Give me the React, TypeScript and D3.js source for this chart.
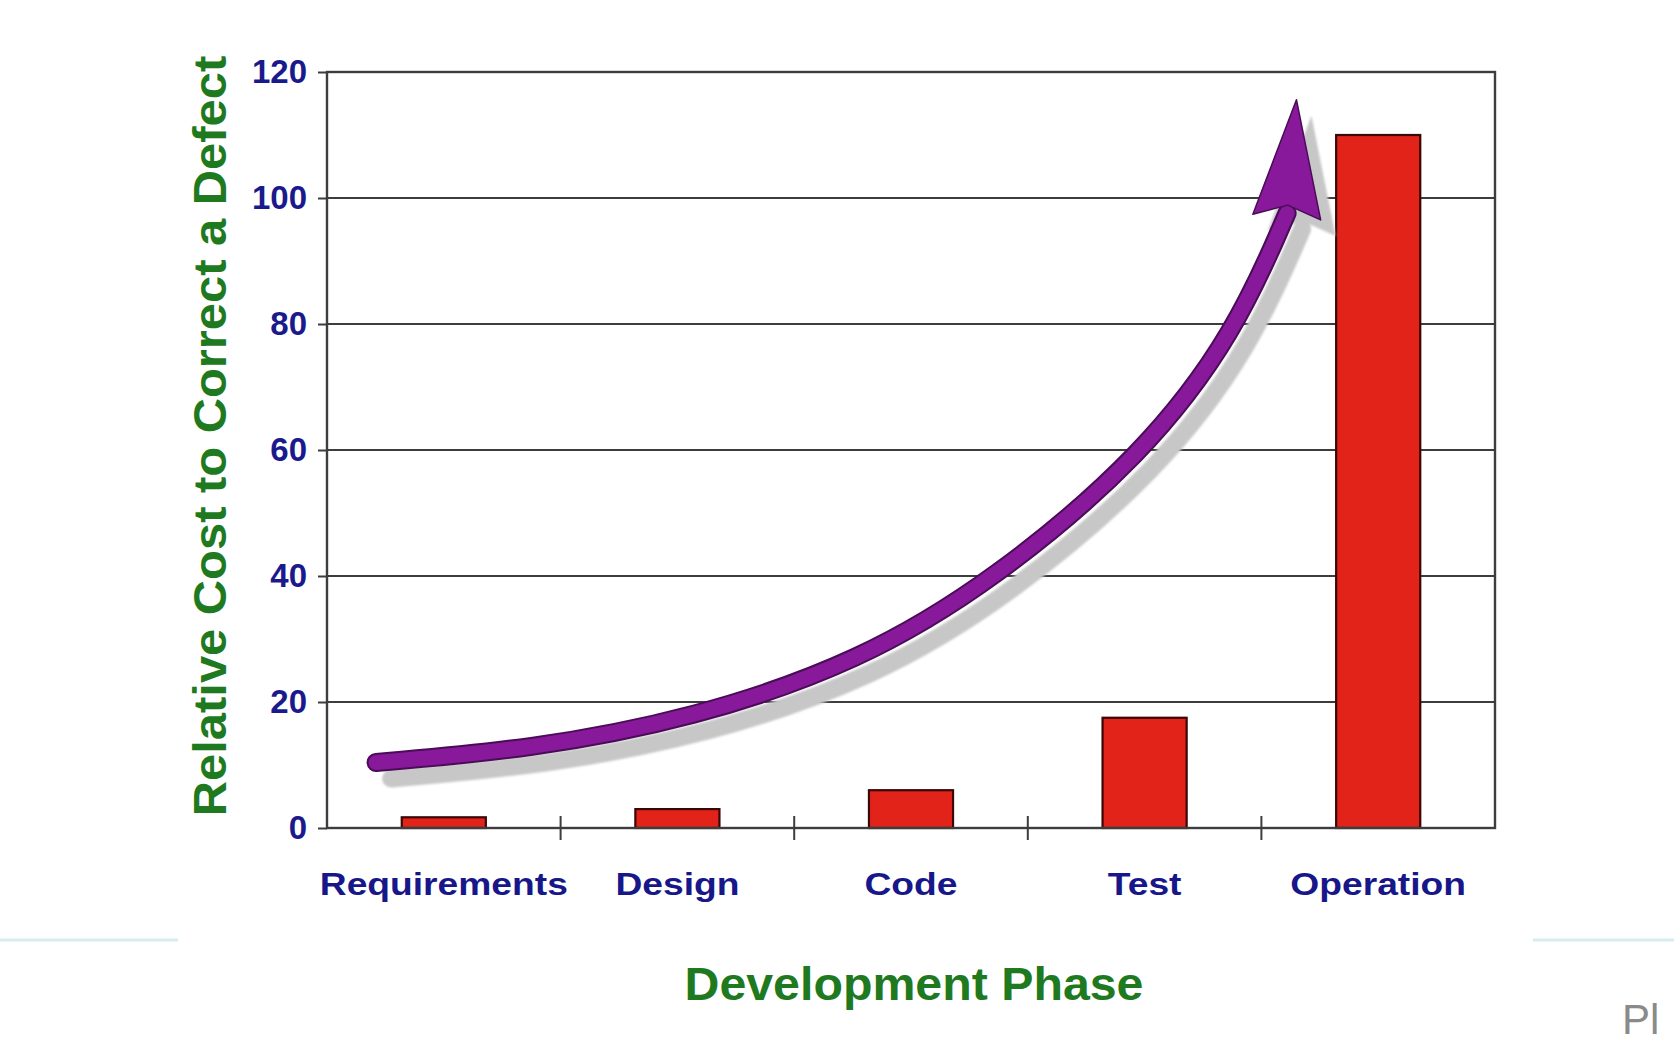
import { useEffect, useRef } from 'react';
import * as d3 from 'd3';

const phases = ['Requirements', 'Design', 'Code', 'Test', 'Operation'];
const relativeCost = [1.7, 3, 6, 17.5, 110];
const yTicks = [0, 20, 40, 60, 80, 100, 120];

// rising arrow, x in category units (0 = left edge of plot), y in cost units
const arrowX = [0.21, 0.87, 1.57, 2.28, 2.86, 3.5, 3.89, 4.11];
const arrowY = [10.4, 12.5, 17.4, 26.4, 39.4, 59.4, 78.8, 97.6];
const arrowTipX = 4.15;
const arrowTipY = 115.6;

const FONT = '"Liberation Sans", Arial, sans-serif';

const App = () => {
  const svgRef = useRef<SVGSVGElement>(null);

  useEffect(() => {
    const width = 1674;
    const height = 1042;
    const marginTop = 72;
    const marginRight = 179;
    const marginBottom = 214;
    const marginLeft = 327;

    const svg = d3.select(svgRef.current);
    svg.selectAll('*').remove();

    const x = d3
      .scaleBand<string>()
      .domain(phases)
      .range([marginLeft, width - marginRight])
      .paddingInner(0.64)
      .paddingOuter(0.32);

    const y = d3
      .scaleLinear()
      .domain([0, 120])
      .range([height - marginBottom, marginTop]);

    const plotW = width - marginRight - marginLeft;

    // slide background bits
    svg.append('rect').attr('width', width).attr('height', height).attr('fill', '#fff');
    svg
      .append('g')
      .attr('stroke', '#d6ecf0')
      .attr('stroke-width', 3)
      .selectAll('line')
      .data([[0, 178], [1533, width]])
      .join('line')
      .attr('x1', (d) => d[0])
      .attr('x2', (d) => d[1])
      .attr('y1', 940)
      .attr('y2', 940);
    svg
      .append('text')
      .attr('x', 1622)
      .attr('y', 1034)
      .attr('font-family', FONT)
      .attr('font-size', 42)
      .attr('fill', '#8a8a8a')
      .text('Pl');

    // gridlines
    svg
      .append('g')
      .attr('stroke', '#3d3d3d')
      .attr('stroke-width', 2.2)
      .selectAll('line')
      .data(yTicks)
      .join('line')
      .attr('x1', marginLeft)
      .attr('x2', marginLeft + plotW)
      .attr('y1', (d) => y(d))
      .attr('y2', (d) => y(d));

    // y axis: short ticks + labels
    svg
      .append('g')
      .attr('transform', `translate(${marginLeft},0)`)
      .call(d3.axisLeft(y).tickValues(yTicks).tickSize(9).tickPadding(11))
      .call((g) => g.select('.domain').remove())
      .call((g) => g.selectAll('.tick line').attr('stroke', '#3d3d3d').attr('stroke-width', 2))
      .call((g) =>
        g
          .selectAll('.tick text')
          .attr('font-family', FONT)
          .attr('font-size', 33)
          .attr('font-weight', 'bold')
          .attr('fill', '#1a1a8c')
      );

    // bars
    svg
      .append('g')
      .selectAll('rect')
      .data(relativeCost)
      .join('rect')
      .attr('x', (_, i) => x(phases[i])!)
      .attr('y', (d) => y(d))
      .attr('width', x.bandwidth())
      .attr('height', (d) => y(0) - y(d))
      .attr('fill', '#e2231a')
      .attr('stroke', '#3a0606')
      .attr('stroke-width', 2.2);

    // frame
    svg
      .append('rect')
      .attr('x', marginLeft)
      .attr('y', marginTop)
      .attr('width', plotW)
      .attr('height', y(0) - marginTop)
      .attr('fill', 'none')
      .attr('stroke', '#3d3d3d')
      .attr('stroke-width', 2.4);

    // category separator ticks on the x axis
    const step = x.step();
    svg
      .append('g')
      .attr('stroke', '#3d3d3d')
      .attr('stroke-width', 2)
      .selectAll('line')
      .data(phases.slice(1))
      .join('line')
      .attr('x1', (d) => x(d)! - (step - x.bandwidth()) / 2)
      .attr('x2', (d) => x(d)! - (step - x.bandwidth()) / 2)
      .attr('y1', y(0) - 12)
      .attr('y2', y(0) + 12);

    // x labels
    svg
      .append('g')
      .attr('transform', `translate(0,${y(0)})`)
      .call(d3.axisBottom(x).tickSize(0).tickPadding(45))
      .call((g) => g.select('.domain').remove())
      .call((g) =>
        g
          .selectAll('.tick text')
          .attr('font-family', FONT)
          .attr('font-size', 31)
          .attr('font-weight', 'bold')
          .attr('fill', '#17178a')
          .attr('transform', 'scale(1.2,1)')
      );

    // arrow
    const ax = d3.scaleLinear().domain([0, phases.length]).range([marginLeft, marginLeft + plotW]);
    const pts: [number, number][] = arrowX.map((v, i) => [ax(v), y(arrowY[i])]);
    const tip: [number, number] = [ax(arrowTipX), y(arrowTipY)];
    const base = pts[pts.length - 1];
    const len = Math.hypot(tip[0] - base[0], tip[1] - base[1]);
    const dir = [(tip[0] - base[0]) / len, (tip[1] - base[1]) / len];
    const perp = [-dir[1], dir[0]];
    const half = 34;
    const head: [number, number][] = [
      tip,
      [base[0] + perp[0] * half - dir[0] * 4, base[1] + perp[1] * half - dir[1] * 4],
      [base[0] + dir[0] * 8, base[1] + dir[1] * 8],
      [base[0] - perp[0] * half - dir[0] * 4, base[1] - perp[1] * half - dir[1] * 4],
    ];
    const line = d3.line().curve(d3.curveBasis);
    const shaft = line(pts)!;
    const headPath = `M${head.map((p) => p.join(',')).join('L')}Z`;

    const defs = svg.append('defs');
    defs
      .append('filter')
      .attr('id', 'soft')
      .append('feGaussianBlur')
      .attr('stdDeviation', 1.2);

    const shadow = svg
      .append('g')
      .attr('transform', 'translate(15,16)')
      .attr('filter', 'url(#soft)');
    shadow
      .append('path')
      .attr('d', shaft)
      .attr('fill', 'none')
      .attr('stroke', '#c7c7c7')
      .attr('stroke-width', 18)
      .attr('stroke-linecap', 'round');
    shadow.append('path').attr('d', headPath).attr('fill', '#c7c7c7');

    const arrow = svg.append('g');
    arrow
      .append('path')
      .attr('d', shaft)
      .attr('fill', 'none')
      .attr('stroke', '#4a0c57')
      .attr('stroke-width', 19)
      .attr('stroke-linecap', 'round');
    arrow
      .append('path')
      .attr('d', shaft)
      .attr('fill', 'none')
      .attr('stroke', '#87199a')
      .attr('stroke-width', 15)
      .attr('stroke-linecap', 'round');
    arrow
      .append('path')
      .attr('d', headPath)
      .attr('fill', '#87199a')
      .attr('stroke', '#4a0c57')
      .attr('stroke-width', 1.5)
      .attr('stroke-linejoin', 'round');

    // axis titles
    svg
      .append('text')
      .attr('transform', 'translate(914,1000) scale(1.05,1)')
      .attr('text-anchor', 'middle')
      .attr('font-family', FONT)
      .attr('font-size', 46)
      .attr('font-weight', 'bold')
      .attr('fill', '#1f7a1f')
      .text('Development Phase');

    svg
      .append('text')
      .attr('transform', 'translate(226,436) rotate(-90) scale(1.04,1)')
      .attr('text-anchor', 'middle')
      .attr('font-family', FONT)
      .attr('font-size', 47)
      .attr('font-weight', 'bold')
      .attr('fill', '#1f7a1f')
      .text('Relative Cost to Correct a Defect');
  }, []);

  return (
    <svg
      ref={svgRef}
      width={1674}
      height={1042}
      style={{ position: 'absolute', left: 0, top: 0, display: 'block' }}
    ></svg>
  );
};

export default App;
